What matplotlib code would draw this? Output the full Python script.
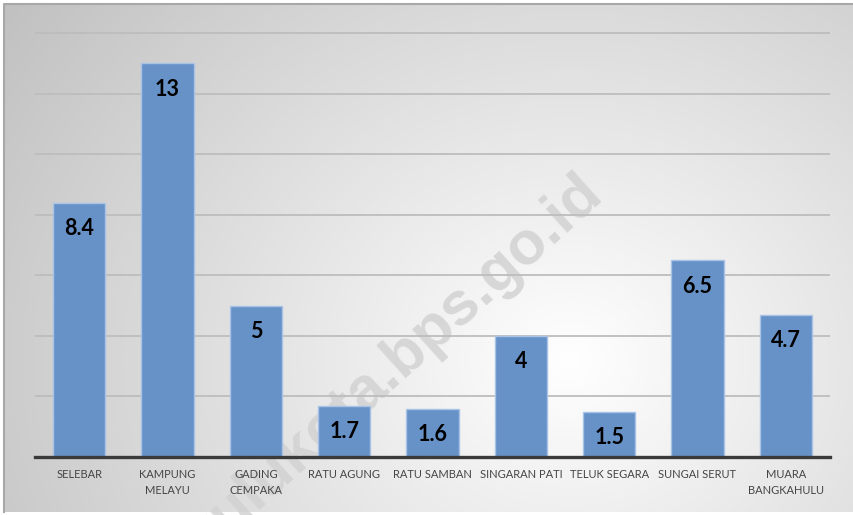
import numpy as np
import matplotlib
matplotlib.use('Agg')
import matplotlib.pyplot as plt

# data
kecamatan = ['SELEBAR', 'KAMPUNG\nMELAYU', 'GADING\nCEMPAKA', 'RATU AGUNG', 'RATU SAMBAN',
             'SINGARAN PATI', 'TELUK SEGARA', 'SUNGAI SERUT', 'MUARA\nBANGKAHULU']
nilai = [8.4, 13, 5, 1.7, 1.6, 4, 1.5, 6.5, 4.7]
label_nilai = ['8.4', '13', '5', '1.7', '1.6', '4', '1.5', '6.5', '4.7']

plt.rcParams['font.family'] = ['Lato', 'DejaVu Sans']

W, H = 854, 515
fig = plt.figure(figsize=(W / 100, H / 100), dpi=100, facecolor='white')

# radial grey background (chart area, white strip left/bottom)
bg = fig.add_axes([0, 0, 1, 1], zorder=0)
x0, y0, x1, y1 = 4, 4, W, 512
xx, yy = np.meshgrid(np.arange(x0, x1), np.arange(y0, y1))
r = np.sqrt(((xx - 570) / 380.0) ** 2 + ((yy - 360) / 330.0) ** 2)
shade = np.clip(255 - 34 * r, 185, 255) / 255.0
bg.imshow(np.dstack([shade, shade, shade]), aspect='auto', extent=[x0, x1, y1, y0])
bg.plot([x0, x0, x1], [y1, y0, y0], color='#a8a8a8', lw=1.5)
bg.set_xlim(0, W)
bg.set_ylim(H, 0)
bg.axis('off')

# watermark
bg.text(594, 184, 'bengkulukota.bps.go.id', rotation=42, rotation_mode='anchor',
        ha='right', va='center', fontsize=44, fontweight='bold',
        family=['Liberation Sans', 'DejaVu Sans'], color='#d2d2d2', alpha=0.85)

ax = fig.add_axes([35 / W, 1 - 457 / H, 795 / W, 430 / H], zorder=1)
ax.patch.set_alpha(0)

x = np.arange(len(kecamatan))
bars = ax.bar(x, nilai, width=0.59, color='#6792c7', edgecolor='#a9c3e6', linewidth=1, zorder=3)

for i, b in enumerate(bars):
    ax.annotate(label_nilai[i], (b.get_x() + b.get_width() / 2, b.get_height()),
                xytext=(0, -26), textcoords='offset pixels', ha='center', va='center',
                fontsize=15.5, fontweight='bold', color='black', zorder=4)

ax.set_xlim(-0.5, len(kecamatan) - 0.5)
ax.set_ylim(0, 14.2)
ax.set_yticks(np.arange(0, 15, 2))
ax.set_yticklabels([])
ax.yaxis.grid(True, color='#bdbdbd', linewidth=1.3, zorder=1)
ax.tick_params(axis='y', length=0)
ax.set_xticks(x)
ax.set_xticklabels(kecamatan, fontsize=8, color='#454545', linespacing=1.45)
ax.tick_params(axis='x', length=0, pad=9)
for s in ['top', 'right', 'left']:
    ax.spines[s].set_visible(False)
ax.spines['bottom'].set_color('#3a3a3a')
ax.spines['bottom'].set_linewidth(2.4)
ax.spines['bottom'].set_zorder(5)

fig.savefig('out.png', dpi=100)
